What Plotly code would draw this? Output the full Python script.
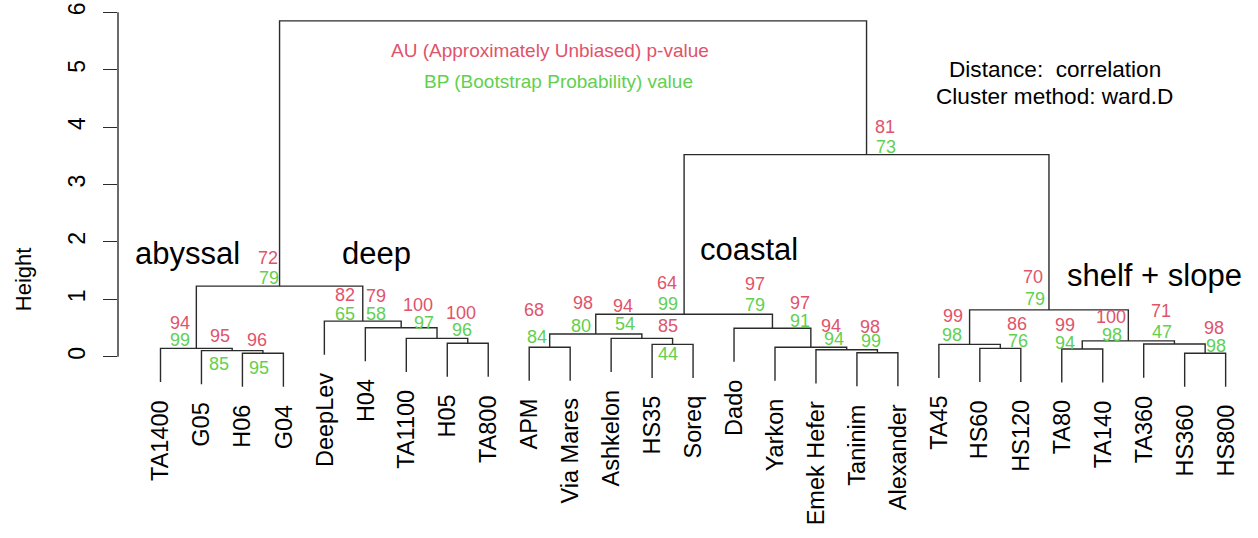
import plotly.graph_objects as go

# ---- data -------------------------------------------------------------
leaf_labels = ["TA1400", "G05", "H06", "G04", "DeepLev", "H04", "TA1100", "H05",
               "TA800", "APM", "Via Mares", "Ashkelon", "HS35", "Soreq", "Dado",
               "Yarkon", "Emek Hefer", "Taninim", "Alexander", "TA45", "HS60",
               "HS120", "TA80", "TA140", "TA360", "HS360", "HS800"]

# hclust-style merge table: negative = leaf (1-based, plotting order),
# positive = an earlier merge row (1-based)
merge_left = [-26, -3, -18, -2, -17, -23, -1, -21, -10, -16, -13, -20, -25,
              -8, 6, -12, -7, 9, -6, -15, -5, 18, 12, 7, 22, 24]
merge_right = [-27, -4, -19, 2, 3, -24, 4, -22, -11, 5, -14, 8, 1,
               -9, 13, 11, 14, 16, 17, 10, 19, 20, 15, 21, 23, 25]
merge_height = [0.06, 0.06, 0.07, 0.105, 0.12, 0.135, 0.145, 0.145, 0.165,
                0.165, 0.215, 0.215, 0.22, 0.235, 0.275, 0.32, 0.32, 0.395,
                0.505, 0.495, 0.62, 0.74, 0.815, 1.23, 3.52, 5.85]

# pvclust support values (%) per merge row; the root carries none
au_values = [98, 96, 98, 95, 94, 99, 94, 86, 68, 97, 85, 99, 71, 100, 100, 94,
             100, 98, 79, 97, 82, 64, 70, 72, 81, None]
bp_values = [98, 95, 99, 85, 94, 94, 99, 76, 84, 91, 44, 98, 47, 96, 98, 54,
             97, 80, 58, 79, 65, 99, 79, 79, 73, None]

y_ticks = [0, 1, 2, 3, 4, 5, 6]

group_names = ["abyssal", "deep", "coastal", "shelf + slope"]

# ---- label placement (pixel nudges from each node) ------------------------
au_nudge = [(9, -25), (-6, -13), (-7, -26), (-12, -15), (-16, -24), (-17, -24),
            (-16, -25), (17, -24), (-16, -37), (-11, -44), (-5, -18), (-17, -28),
            (-13, -33), (-7, -30), (-17, -24), (-19, -32), (-19, -33), (-13, -31),
            (-25, -32), (-17, -44), (-18, -26), (-17, -31), (-16, -33), (-12, -28),
            (18, -28), (0, 0)]
bp_nudge = [(11, -7), (-4, 15), (-6, -12), (-13, 13), (-13, -11), (-17, -6),
            (-16, -8), (18, -7), (-13, -10), (-11, -26), (-5, 10), (-18, -9),
            (-12, -12), (-6, -13), (-16, -6), (-17, -14), (-13, -15), (-15, -8),
            (-25, -14), (-17, -23), (-18, -7), (-16, -10), (-14, -11), (-11, -8),
            (19, -8), (0, 0)]
group_pos = [(1.66, 1.8), (6.28, 1.8), (15.36, 1.86), (25.27, 1.42)]

FONT = "Liberation Sans, Arial, Helvetica, sans-serif"
AU_COL = "#DF536B"
BP_COL = "#61D04F"
LINE_COL = "#2b2b2b"

# ---- dendrogram geometry ---------------------------------------------------
n_leaf = len(leaf_labels)
hang = 0.1 * max(merge_height)
node_x = []
xs, ys = [], []
leaf_bottom = [None] * n_leaf


def child_point(c, parent_h):
    if c < 0:
        i = -c - 1
        leaf_bottom[i] = parent_h - hang
        return i + 1, parent_h - hang
    return node_x[c - 1], merge_height[c - 1]


for a, b, h in zip(merge_left, merge_right, merge_height):
    xa, ya = child_point(a, h)
    xb, yb = child_point(b, h)
    xs += [xa, xa, xb, xb, None]
    ys += [ya, h, h, yb, None]
    node_x.append((xa + xb) / 2)

fig = go.Figure()
fig.add_trace(go.Scatter(x=xs, y=ys, mode="lines",
                         line=dict(color=LINE_COL, width=1.4),
                         hoverinfo="skip", showlegend=False))

ann = []
# support values
for k, h in enumerate(merge_height):
    if au_values[k] is None:
        continue
    for val, col, (dx, dy) in ((au_values[k], AU_COL, au_nudge[k]),
                               (bp_values[k], BP_COL, bp_nudge[k])):
        ann.append(dict(x=node_x[k], y=h, xref="x", yref="y", text=str(val),
                        showarrow=False, xanchor="center", yanchor="middle",
                        xshift=dx, yshift=-dy,
                        font=dict(family=FONT, size=18, color=col)))

# leaf labels, rotated and hanging below each leaf
for i, lab in enumerate(leaf_labels):
    ann.append(dict(x=i + 1, y=leaf_bottom[i], xref="x", yref="y", text=lab,
                    showarrow=False, textangle=-90, xanchor="center",
                    yanchor="top", yshift=-16,
                    font=dict(family=FONT, size=23.5, color="black")))

# group names
for name, (gx, gy) in zip(group_names, group_pos):
    ann.append(dict(x=gx, y=gy, xref="x", yref="y", text=name, showarrow=False,
                    xanchor="center", yanchor="middle",
                    font=dict(family=FONT, size=31, color="black")))

# key for the two support values and method notes
ann += [
    dict(x=10.51, y=5.34, xref="x", yref="y", showarrow=False,
         text="AU (Approximately Unbiased) p-value",
         font=dict(family=FONT, size=19, color=AU_COL)),
    dict(x=10.71, y=4.79, xref="x", yref="y", showarrow=False,
         text="BP (Bootstrap Probability) value",
         font=dict(family=FONT, size=19, color=BP_COL)),
    dict(x=22.83, y=5.01, xref="x", yref="y", showarrow=False,
         text="Distance:  correlation",
         font=dict(family=FONT, size=22.6, color="black")),
    dict(x=22.83, y=4.53, xref="x", yref="y", showarrow=False,
         text="Cluster method: ward.D",
         font=dict(family=FONT, size=22.6, color="black")),
    dict(x=0, y=1.35, xref="paper", yref="y", showarrow=False,
         text="Height", textangle=-90, xanchor="center", yanchor="middle",
         xshift=-95,
         font=dict(family=FONT, size=22, color="black")),
]

# y axis line spanning the tick range only
fig.add_shape(type="line", xref="paper", yref="y", x0=0, x1=0,
              y0=min(y_ticks), y1=max(y_ticks),
              line=dict(color=LINE_COL, width=1.4))

fig.update_layout(
    width=1258, height=538,
    margin=dict(l=118, r=0, t=0, b=0, autoexpand=False),
    paper_bgcolor="white", plot_bgcolor="white",
    annotations=ann,
    showlegend=False,
    xaxis=dict(range=[-0.0373, 27.79], visible=False, fixedrange=True),
    yaxis=dict(range=[-3.1585, 6.2143], tickvals=y_ticks,
               ticktext=[str(t) for t in y_ticks], tickangle=-90,
               ticks="outside", ticklen=14, tickwidth=1.4, tickcolor=LINE_COL,
               showline=False, showgrid=False, zeroline=False,
               ticklabelstandoff=9,
               tickfont=dict(family=FONT, size=23, color="black"),
               fixedrange=True),
)

fig.write_html("out.html")
